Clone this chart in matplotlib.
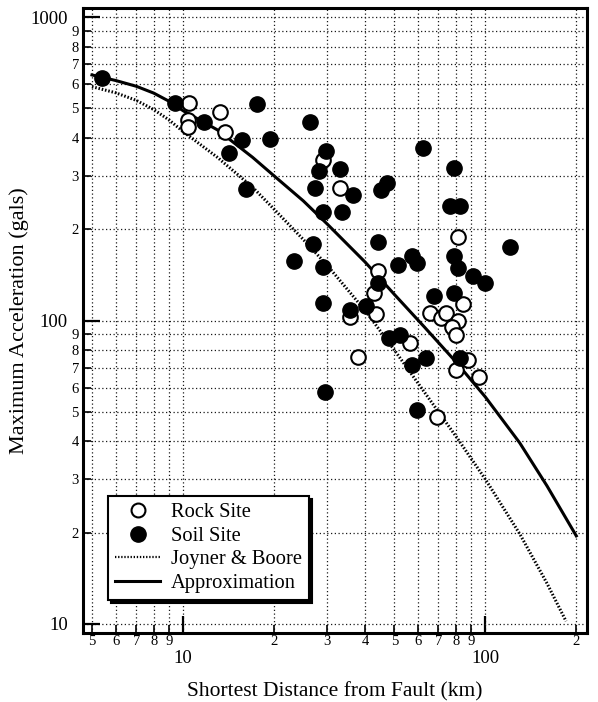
import matplotlib
matplotlib.use('Agg')
import matplotlib.pyplot as plt
from matplotlib.lines import Line2D

plt.rcParams['font.family'] = ['Liberation Serif', 'DejaVu Serif']

# ---- data ----
rock_dist = [10.5, 10.4, 10.4, 13.3, 13.8, 29.1, 33.1, 81.0, 44.2, 42.9, 35.7, 43.6, 38.0,
             56.5, 84.5, 65.8, 71.5, 74.3, 81.4, 77.7, 80.0, 88.0, 80.0, 95.0, 69.0]
rock_acc = [520, 458, 434, 486, 418, 338, 273, 188, 146, 123, 103, 105, 76,
            84, 113, 106, 102, 106, 100, 95, 89.6, 74, 68.7, 65, 48]

soil_dist = [5.4, 9.4, 11.7, 14.2, 15.7, 16.2, 17.6, 19.4, 23.3, 26.3, 29.8, 28.2, 33.1,
             27.4, 36.6, 29.1, 33.6, 45.2, 47.4, 62.0, 79.0, 76.6, 82.6, 44.2, 26.9,
             29.1, 51.5, 57.3, 59.6, 79.0, 81.4, 91.0, 100.0, 121.0, 29.1, 35.7, 40.4,
             44.2, 67.8, 79.0, 48.0, 52.3, 57.3, 63.8, 29.5, 59.6, 82.6]
soil_acc = [630, 521, 451, 356, 393, 271, 517, 396, 157, 451, 362, 311, 316,
            273, 259, 228, 228, 269, 284, 370, 318, 238, 238, 181, 179,
            150, 152, 163, 155, 163, 149, 140, 133, 175, 114, 108, 112,
            133, 120, 123, 87.6, 89.6, 71.4, 75.2, 58, 50.7, 75]

jb_dist = [5.0, 6.0, 7.0, 8.0, 9.0, 10.0, 13.0, 17.0, 20.0, 25.0, 30.0, 40.0, 50.0,
           60.0, 80.0, 100.0, 130.0, 160.0, 185.0]
jb_acc = [590, 563, 532, 496, 458, 420, 345, 275, 233, 185, 152, 108, 80,
          62, 41.5, 30, 19.8, 13.6, 10.2]

approx_dist = [5.0, 6.0, 7.0, 8.0, 9.0, 10.0, 13.0, 17.0, 20.0, 25.0, 30.0, 40.0, 50.0,
               63.0, 80.0, 100.0, 130.0, 160.0, 200.0]
approx_acc = [645, 618, 592, 562, 528, 492, 425, 345, 300, 248, 208, 156, 122,
              95, 73, 56, 39.5, 28.5, 19.5]

x_major = [10, 100]
x_major_labels = ['10', '100']
x_minor = [5, 6, 7, 8, 9, 20, 30, 40, 50, 60, 70, 80, 90, 200]
x_minor_labels = ['5', '6', '7', '8', '9', '2', '3', '4', '5', '6', '7', '8', '9', '2']
y_major = [10, 100, 1000]
y_major_labels = ['10', '100', '1000']
y_minor = [20, 30, 40, 50, 60, 70, 80, 90, 200, 300, 400, 500, 600, 700, 800, 900]
y_minor_labels = ['2', '3', '4', '5', '6', '7', '8', '9', '2', '3', '4', '5', '6', '7', '8', '9']

# ---- figure ----
fig = plt.figure(figsize=(5.98, 7.02), dpi=100)
ax = fig.add_axes([83 / 598, 1 - 633 / 702, 504 / 598, 625 / 702])
ax.set_xscale('log')
ax.set_yscale('log')
ax.set_xlim(4.67, 217)
ax.set_ylim(9.33, 1072)

ax.set_xticks(x_major, x_major_labels)
ax.set_xticks(x_minor, x_minor_labels, minor=True)
ax.set_yticks(y_major, y_major_labels)
ax.set_yticks(y_minor, y_minor_labels, minor=True)

ax.tick_params(which='major', direction='in', length=12, width=1.6, labelsize=13.5,
               top=False, right=False)
ax.tick_params(which='minor', direction='in', length=6, width=1.2, labelsize=10.5,
               top=False, right=False)
ax.tick_params(axis='x', which='major', pad=12)
ax.tick_params(axis='x', which='minor', pad=1.5)
ax.tick_params(axis='y', which='major', pad=11)
ax.tick_params(axis='y', which='minor', pad=3)

ax.grid(which='both', color='0.1', linewidth=0.9, linestyle=(0, (1, 2)))
ax.set_axisbelow(True)

for sp in ax.spines.values():
    sp.set_linewidth(2.2)

ax.plot(jb_dist, jb_acc, color='k', lw=2.2, linestyle=(0, (0.5, 0.6)), zorder=2)
ax.plot(approx_dist, approx_acc, color='k', lw=2.2, linestyle='-', zorder=2)

ax.plot(rock_dist, rock_acc, linestyle='none', marker='o', ms=10.5, mfc='white',
        mec='k', mew=1.5, zorder=3)
ax.plot(soil_dist, soil_acc, linestyle='none', marker='o', ms=11, mfc='k',
        mec='k', mew=1, zorder=4)

ax.set_xlabel('Shortest Distance from Fault (km)', fontsize=15.5, labelpad=11)
ax.set_ylabel('Maximum Acceleration (gals)', fontsize=16, labelpad=1)

handles = [
    Line2D([], [], linestyle='none', marker='o', ms=10, mfc='white', mec='k', mew=1.5),
    Line2D([], [], linestyle='none', marker='o', ms=11, mfc='k', mec='k'),
    Line2D([], [], color='k', lw=1.6, linestyle=(0, (0.6, 0.8))),
    Line2D([], [], color='k', lw=2.2),
]
labels = ['Rock Site', 'Soil Site', 'Joyner & Boore', 'Approximation']
leg = ax.legend(handles, labels, loc='lower left', bbox_to_anchor=(0.0496, 0.0528),
                borderaxespad=0, frameon=True, fancybox=False, edgecolor='k',
                framealpha=1, fontsize=14.8, handlelength=2.2, handletextpad=0.5,
                labelspacing=0.2, borderpad=0.35,
                shadow={'color': 'k', 'alpha': 1})
leg.get_frame().set_linewidth(1.5)
leg.set_zorder(6)

fig.savefig('out.png', dpi=100, facecolor='white')
